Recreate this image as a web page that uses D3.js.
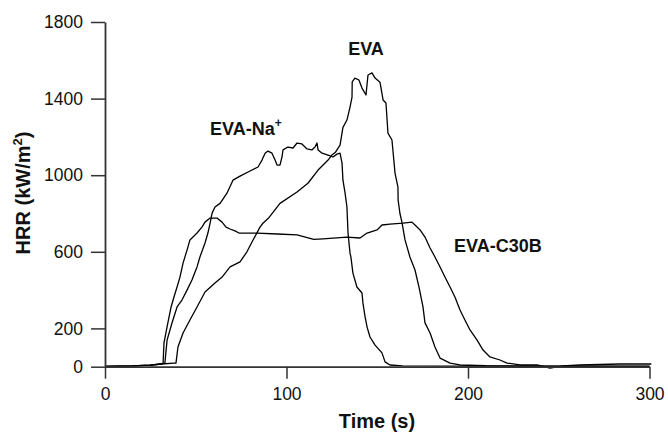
<!DOCTYPE html>
<html>
<head>
<meta charset="utf-8">
<script src="https://cdn.jsdelivr.net/npm/d3@7"></script>
<style>
  html, body { margin: 0; padding: 0; background: #fff; }
  svg text { font-family: "Liberation Sans", Arial, sans-serif; fill: #111; }
</style>
</head>
<body>
<svg id="chart" width="668" height="434"></svg>
<script>
// ---- Data ----
const xTicks = [0, 100, 200, 300];
const yTicks = [0, 200, 600, 1000, 1400, 1800];

const evaTime = [0,15,25,31,38,39.1,40.2,43,46.8,50.7,55.1,60.6,64.5,68.9,74.4,78.2,81.5,85.4,87,90,96.4,105.8,111.8,117.4,122.9,125,127,129.5,131.1,133.3,135,136.1,136.2,137.7,139.9,141.6,143.8,144.9,147.1,148.8,151.5,153.2,154.8,155.9,158.1,159.8,161.4,161.5,162.5,163.6,165.3,168,170.8,173,175.2,176.3,179.1,181.8,184.6,190.1,195.6,210,250,300];
const evaHRR  = [2,4,8,14,19,19,103,176,244,312,390,437,468,521,547,600,660,729,749,775,853,912,958,1027,1079,1105,1120,1157,1250,1288,1356,1408,1487,1507,1497,1455,1419,1523,1534,1507,1486,1393,1377,1220,1184,1011,938,870,800,755,662,573,505,416,312,229,176,103,45,19,9,5,3,3];

const naTime = [0,15,25,31,33,34.2,36.9,39.7,42.4,45.2,47.9,50.7,52.3,55.1,56.7,57.9,59,60.6,63.4,67.2,70.5,74.4,79.9,84.3,86.5,88.2,89.8,92,93.7,94.8,96.4,97.5,98.1,100.8,103.6,105.8,108.5,111.3,114,115.7,116.8,117.4,119.6,122.9,125.6,127.8,129.5,130.6,131.1,132.2,133.3,133.9,135,135.5,136.6,138.8,141.6,142.1,143.3,144.4,146,148.8,152.6,154.3,157,164,200,300];
const naHRR  = [2,4,8,14,19,139,228,312,348,400,453,521,573,646,698,750,802,834,853,906,974,995,1022,1043,1079,1115,1126,1115,1079,1053,1053,1095,1132,1147,1142,1168,1163,1137,1132,1147,1168,1132,1115,1105,1095,1110,1115,1063,974,912,834,698,593,572,489,416,385,333,260,207,155,113,72,25,9,4,3,2];

const c30bTime = [0,15,25,31,32,32.5,34.2,36.4,38,39.7,41.3,43,45.2,46.8,50.7,53.4,55.1,57.9,61.7,64.5,66.7,68.9,71.6,73.8,83.7,95,105.8,115,120.1,133.3,140.5,144.4,149.9,152.6,157,164.2,169.1,170.8,173.6,176.3,179.1,181.8,184.6,187.3,190.1,192.8,195.6,198.3,201.1,205,208.3,212.1,217.6,221.5,228.7,238,245.2,252.3,261.7,283.7,301];
const c30bHRR  = [2,4,8,14,19,124,208,312,364,416,468,541,609,662,698,729,755,776,776,755,729,719,709,698,698,693,688,665,668,677,672,698,714,740,745,750,755,740,714,677,620,573,521,468,416,364,296,244,192,139,87,51,35,19,9,9,-7,4,9,14,14];

const series = [
  { name: "EVA", t: evaTime, v: evaHRR },
  { name: "EVA-Na+", t: naTime, v: naHRR },
  { name: "EVA-C30B", t: c30bTime, v: c30bHRR }
];

// ---- Layout ----
const svg = d3.select("#chart");
const x = d3.scaleLinear().domain([0, 300]).range([105, 649.5]);
const y = d3.scaleLinear().domain([0, 1800]).range([366.7, 22]);

const axisColor = "#333";

// Curves
const line = d3.line().x(d => x(d[0])).y(d => y(d[1]));
series.forEach(s => {
  const pts = s.t.map((t, i) => [t, s.v[i]]);
  svg.append("path")
    .datum(pts)
    .attr("d", line)
    .attr("fill", "none")
    .attr("stroke", "#000")
    .attr("stroke-width", 1.3)
    .attr("stroke-linejoin", "round");
});

// Axes
const yAxis = d3.axisLeft(y).tickValues(yTicks).tickSize(14).tickSizeOuter(0).tickPadding(8).tickFormat(d3.format("d"));
const xAxis = d3.axisBottom(x).tickValues(xTicks).tickSize(12).tickSizeOuter(0).tickPadding(9).tickFormat(d3.format("d"));

const gy = svg.append("g").attr("transform", `translate(${x(0)},0)`).call(yAxis);
const gx = svg.append("g").attr("transform", `translate(0,${y(0)})`).call(xAxis);

[gx, gy].forEach(g => {
  g.select(".domain").attr("stroke", axisColor).attr("stroke-width", 1.8);
  g.selectAll(".tick line").attr("stroke", axisColor).attr("stroke-width", 1.5);
  g.selectAll(".tick text")
    .attr("font-family", "Liberation Sans, Arial, sans-serif")
    .attr("font-size", 17.5)
    .attr("fill", "#111");
});

// Axis titles
svg.append("text")
  .attr("x", 377)
  .attr("y", 428)
  .attr("text-anchor", "middle")
  .attr("font-size", 20)
  .attr("font-weight", "bold")
  .text("Time (s)");

const yt = svg.append("text")
  .attr("transform", "translate(30,193) rotate(-90)")
  .attr("text-anchor", "middle")
  .attr("font-size", 20)
  .attr("font-weight", "bold");
yt.append("tspan").text("HRR (kW/m");
yt.append("tspan").attr("font-size", 13).attr("dy", -8).text("2");
yt.append("tspan").attr("dy", 8).text(")");

// Annotations
svg.append("text")
  .attr("x", 366).attr("y", 55)
  .attr("text-anchor", "middle")
  .attr("font-size", 18).attr("font-weight", "bold")
  .text("EVA");

const na = svg.append("text")
  .attr("x", 210).attr("y", 135)
  .attr("font-size", 18).attr("font-weight", "bold");
na.append("tspan").text("EVA-Na");
na.append("tspan").attr("font-size", 12).attr("dy", -8).text("+");

svg.append("text")
  .attr("x", 454).attr("y", 252)
  .attr("font-size", 18).attr("font-weight", "bold")
  .text("EVA-C30B");
</script>
</body>
</html>
